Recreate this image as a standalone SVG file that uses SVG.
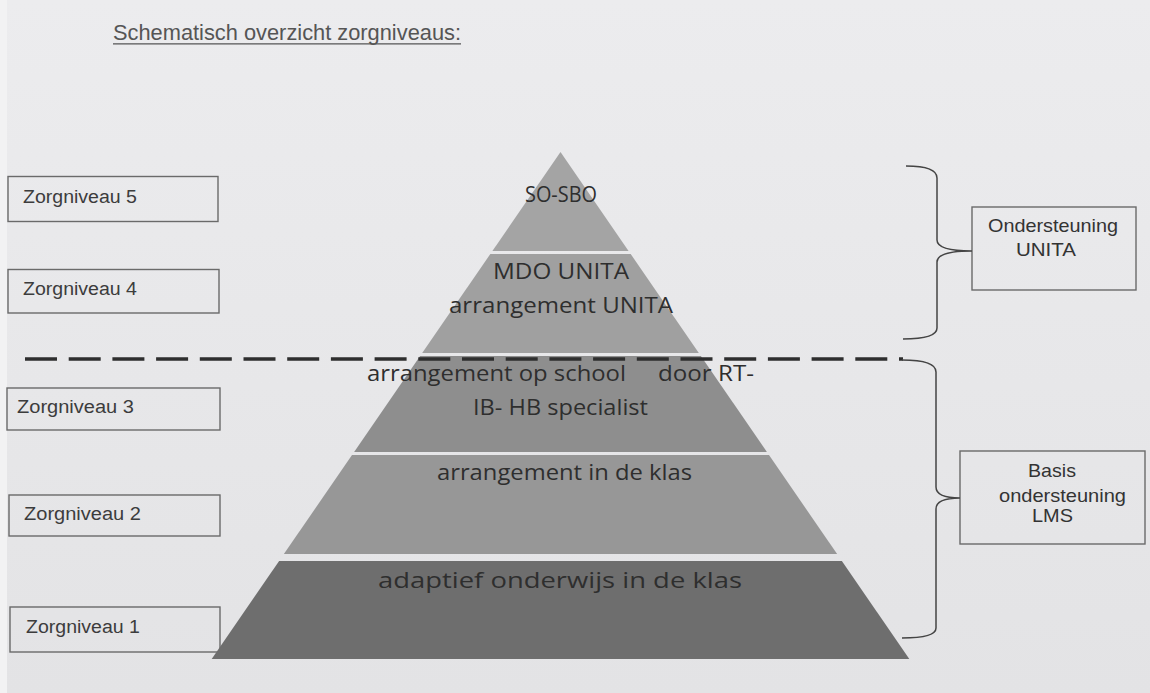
<svg xmlns="http://www.w3.org/2000/svg" width="1150" height="693" viewBox="0 0 1150 693">
<defs>
<style>
.box{fill:none;stroke:#6a6a6a;stroke-width:1.4}
.lbl{font-family:"Liberation Sans",Arial,sans-serif;font-size:18px;fill:#3c3c3c}
.rl{font-family:"Liberation Sans",Arial,sans-serif;font-size:18.5px;fill:#333;text-anchor:start}
.pt{font-family:"Open Sans","Noto Sans",sans-serif;font-size:22px;fill:#2e2e2e}
.brace{fill:none;stroke:#444;stroke-width:1.5}
</style>
<linearGradient id="bg" x1="0" y1="0" x2="0" y2="1">
<stop offset="0" stop-color="#ececee"/>
<stop offset="1" stop-color="#e3e3e5"/>
</linearGradient>
</defs>
<rect x="0" y="0" width="1150" height="693" fill="url(#bg)"/>
<rect x="0" y="0" width="7" height="693" fill="#f2f2f3"/>

<g id="title">
<text x="113" y="40" font-family="Liberation Sans, Arial, sans-serif" font-size="21.5" fill="#555" textLength="348" lengthAdjust="spacingAndGlyphs">Schematisch overzicht zorgniveaus:</text>
<line x1="113" y1="43.8" x2="461" y2="43.8" stroke="#555" stroke-width="1.3"/>
</g>

<g id="zorgniveau5">
<rect class="box" x="8" y="176.5" width="210" height="45"/>
<text class="lbl" x="23" y="203" textLength="114" lengthAdjust="spacingAndGlyphs">Zorgniveau 5</text>
</g>
<g id="zorgniveau4">
<rect class="box" x="8" y="269.5" width="211" height="43.5"/>
<text class="lbl" x="23" y="295" textLength="114" lengthAdjust="spacingAndGlyphs">Zorgniveau 4</text>
</g>
<g id="zorgniveau3">
<rect class="box" x="7" y="388" width="213" height="42"/>
<text class="lbl" x="17" y="413" textLength="117" lengthAdjust="spacingAndGlyphs">Zorgniveau 3</text>
</g>
<g id="zorgniveau2">
<rect class="box" x="9" y="495" width="211" height="41"/>
<text class="lbl" x="24" y="520" textLength="117" lengthAdjust="spacingAndGlyphs">Zorgniveau 2</text>
</g>
<g id="zorgniveau1">
<rect class="box" x="10" y="607" width="210" height="45"/>
<text class="lbl" x="26" y="633" textLength="114" lengthAdjust="spacingAndGlyphs">Zorgniveau 1</text>
</g>

<g id="layer5">
<polygon points="560.5,152 628.6,251 492.4,251" fill="#a4a4a4"/>
<text class="pt" x="525" y="202" font-size="20" textLength="72" lengthAdjust="spacingAndGlyphs">SO-SBO</text>
</g>
<g id="layer4">
<polygon points="490.3,254 630.7,254 698.8,353 422.2,353" fill="#a0a0a0"/>
<text class="pt" x="493" y="279" textLength="136" lengthAdjust="spacingAndGlyphs">MDO UNITA</text>
<text class="pt" x="449" y="313" textLength="224" lengthAdjust="spacingAndGlyphs">arrangement UNITA</text>
</g>
<g id="layer3">
<polygon points="420.1,356 700.9,356 766.9,452 354.1,452" fill="#8e8e8e"/>
<text class="pt" x="367" y="381" textLength="259" lengthAdjust="spacingAndGlyphs">arrangement op school</text>
<text class="pt" x="658" y="381" textLength="96" lengthAdjust="spacingAndGlyphs">door RT-</text>
<text class="pt" x="473" y="415" textLength="175" lengthAdjust="spacingAndGlyphs">IB- HB specialist</text>
</g>
<g id="layer2">
<polygon points="352,455 769,455 837.1,554 283.9,554" fill="#979797"/>
<text class="pt" x="437" y="480" textLength="255" lengthAdjust="spacingAndGlyphs">arrangement in de klas</text>
</g>
<g id="layer1">
<polygon points="279.1,561 841.9,561 909.3,659 211.7,659" fill="#6e6e6e"/>
<text class="pt" x="378" y="588" font-size="23" fill="#2a2a2a" textLength="364" lengthAdjust="spacingAndGlyphs">adaptief onderwijs in de klas</text>
</g>

<g id="ondersteuning-unita">
<rect class="box" x="972" y="207" width="164" height="83" stroke="#555"/>
<text class="rl" x="988" y="232" textLength="130" lengthAdjust="spacingAndGlyphs">Ondersteuning</text>
<text class="rl" x="1016" y="256" textLength="60" lengthAdjust="spacingAndGlyphs">UNITA</text>
</g>
<g id="basis-ondersteuning-lms">
<rect class="box" x="960" y="451" width="185" height="93" stroke="#555"/>
<text class="rl" x="1028" y="477" textLength="48" lengthAdjust="spacingAndGlyphs">Basis</text>
<text class="rl" x="999" y="502" textLength="127" lengthAdjust="spacingAndGlyphs">ondersteuning</text>
<text class="rl" x="1032" y="522" textLength="41" lengthAdjust="spacingAndGlyphs">LMS</text>
</g>

<g id="connectors">
<line x1="25" y1="359" x2="903" y2="359" stroke="#2e2e2e" stroke-width="3.6" stroke-dasharray="32 11.7"/>
<path class="brace" d="M906,166 Q937,166 937,178 L937,240 Q937,251 972,251 Q937,251 937,262 L937,328 Q937,339 903,339"/>
<path class="brace" d="M902,360 Q936,360 936,372 L936,487 Q936,498 960,498 Q936,498 936,509 L936,628 Q936,638 902,638"/>
</g>
</svg>
